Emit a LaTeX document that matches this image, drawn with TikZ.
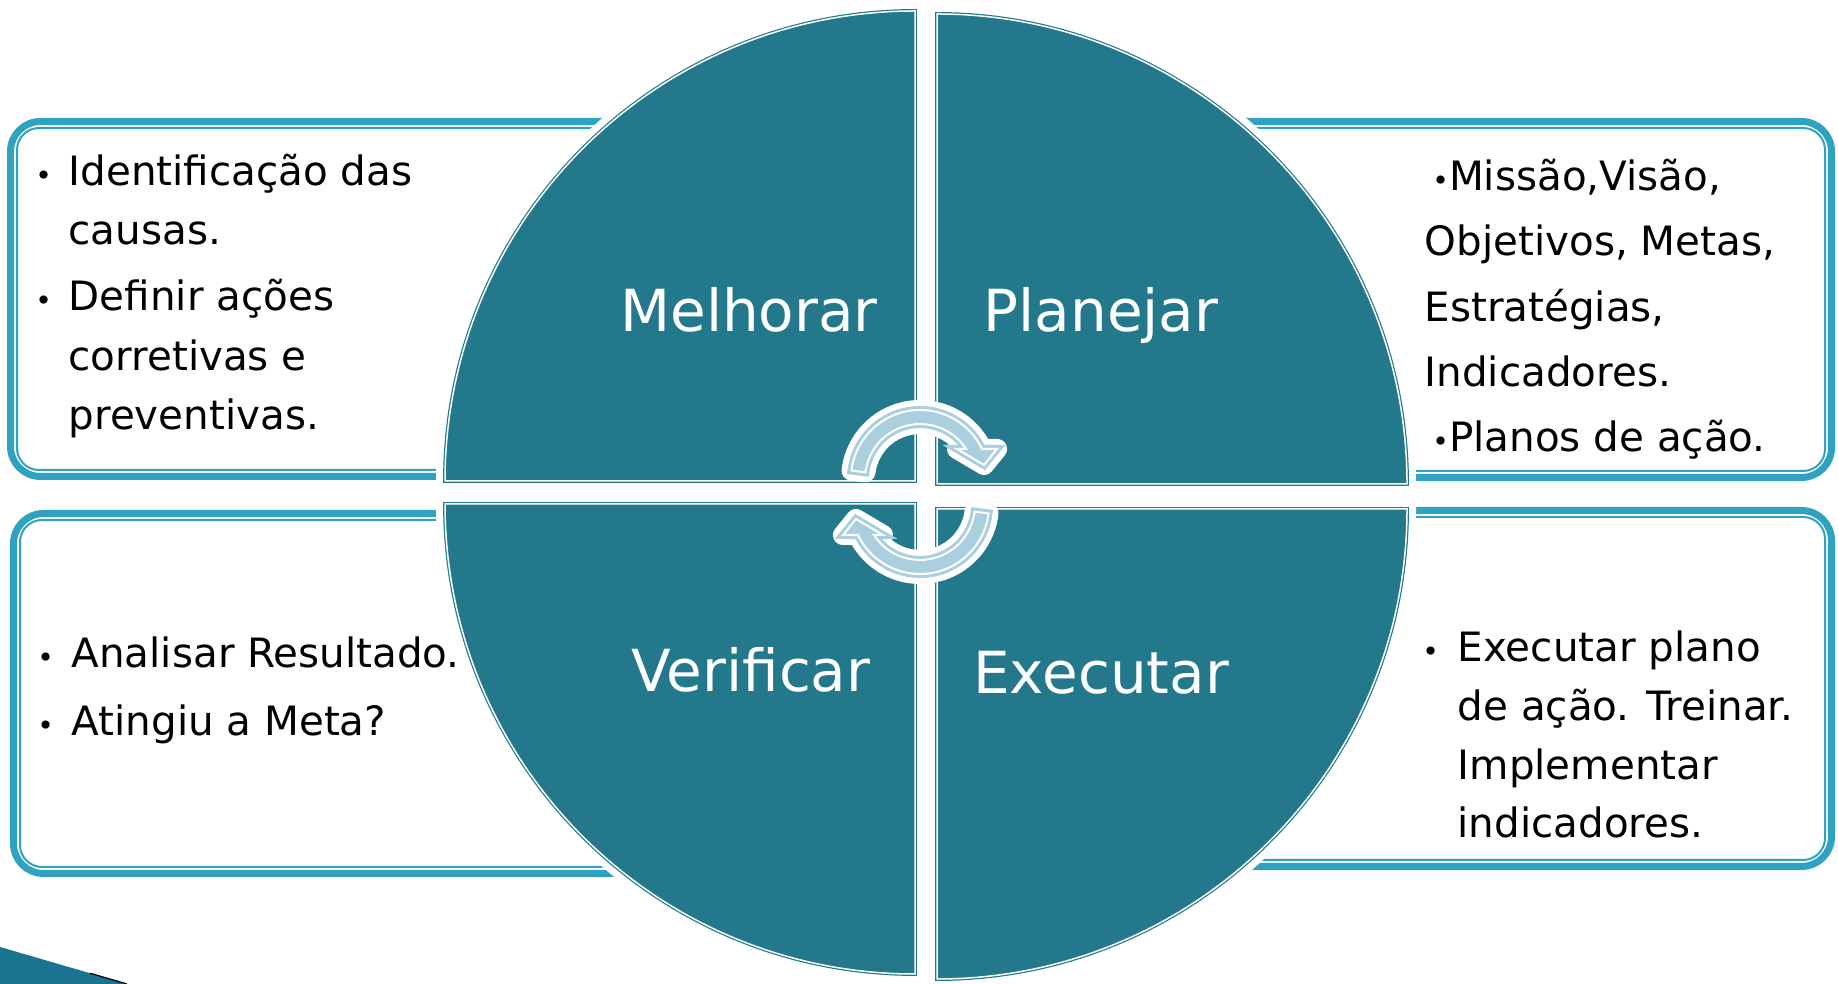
\documentclass[tikz,border=0pt]{standalone}
\usepackage{fontspec}
\setmainfont{DejaVu Sans}
\definecolor{quadc}{RGB}{35,121,139}
\definecolor{boxc}{RGB}{46,162,192}
\definecolor{arrc}{RGB}{170,207,222}
\definecolor{cornerc}{RGB}{25,115,145}
\newcommand{\bul}{{\fontsize{8}{8}\selectfont •}}
\tikzset{
  boxout/.style={draw=boxc, line width=0.7mm, rounded corners=3mm},
  boxin/.style={draw=boxc, line width=0.2mm, rounded corners=2.2mm},
  halo/.style={draw=white, line width=1.8mm},
  quad/.style={fill=quadc, draw=quadc, double=white, double distance=0.15mm, line width=0.12mm},
  quadtext/.style={text=white, anchor=base, font=\fontsize{16.5}{20}\selectfont},
  bodytext/.style={align=left, anchor=base west, inner sep=0pt, font=\fontsize{11.5}{17}\selectfont},
  arrhalo/.style={draw=white, line width=2mm, line join=round},
  arr/.style={fill=arrc, draw=arrc, double=white, double distance=0.2mm, line width=0.3mm}
}
\begin{document}
\begin{tikzpicture}[x=0.1mm, y=0.1mm]
\useasboundingbox (0,0) rectangle (1838,984);
% boxes behind the circle
\foreach \xa/\ya/\xb/\yb in {7/504/700/866, 1150/503/1835/866, 10/107/700/474, 1150/114/1835/477}
{
  \draw[boxout] (\xa+3.5,\ya+3.5) rectangle (\xb-3.5,\yb-3.5);
  \draw[boxin] (\xa+10,\ya+10) rectangle (\xb-10,\yb-10);
}
% texts, placed at the baseline of their last line
\node[bodytext] (tl1) at (68,739) {\llap{\bul\hspace{1.67mm}}Identificação das\\causas.};
\node[bodytext] (tl2) at (68,554) {\llap{\bul\hspace{1.67mm}}Definir ações\\corretivas e\\preventivas.};
\node[bodytext, font=\fontsize{11.5}{18.6}\selectfont] (trtext) at (1424,532)
  {\hspace*{0.77mm}\bul Missão,Visão,\\Objetivos, Metas,\\Estratégias,\\Indicadores.\\\hspace*{0.77mm}\bul Planos de ação.};
\node[bodytext] (bl1) at (71,316) {\llap{\bul\hspace{1.77mm}}Analisar Resultado.};
\node[bodytext] (bl2) at (71,248) {\llap{\bul\hspace{1.77mm}}Atingiu a Meta?};
\node[bodytext, font=\fontsize{11.5}{16.7}\selectfont] (brtext) at (1457,146)
  {\llap{\bul\hspace{1.87mm}}Executar plano\\de ação. Treinar.\\Implementar\\indicadores.};
% the four quarters
\foreach \cx/\cy/\a in {915/503/90, 937/500/0, 915/480/180, 937/475/270}
  \draw[halo] (\cx,\cy) -- ++(\a:470) arc[start angle=\a, delta angle=90, radius=470] -- cycle;
\foreach \cx/\cy/\a in {915/503/90, 937/500/0, 915/480/180, 937/475/270}
  \draw[quad] (\cx,\cy) -- ++(\a:470) arc[start angle=\a, delta angle=90, radius=470] -- cycle;
\node[quadtext] (melhorar) at (749,652) {Melhorar};
\node[quadtext] (planejar) at (1101,652) {Planejar};
\node[quadtext] (verificar) at (751,292) {Verificar};
\node[quadtext] (executar) at (1101,290) {Executar};
% cycle arrows
\foreach \r in {0,180}
{
  \draw[arrhalo, rotate around={\r:(920,492)}] (851.5,513.4) arc[start angle=173, end angle=25.8, radius=69]
    -- (997,535) -- (984,519) -- (957,535) -- (966.1,535) arc[start angle=33.1, end angle=173, radius=55] -- cycle;
  \draw[arr, rotate around={\r:(920,492)}] (851.5,513.4) arc[start angle=173, end angle=25.8, radius=69]
    -- (997,535) -- (984,519) -- (957,535) -- (966.1,535) arc[start angle=33.1, end angle=173, radius=55] -- cycle;
}
% slide corner
\fill[cornerc] (0,0) -- (0,37) -- (127,0) -- cycle;
\draw[black, line width=0.12mm] (90,10.8) -- (127,0);
\end{tikzpicture}
\end{document}
